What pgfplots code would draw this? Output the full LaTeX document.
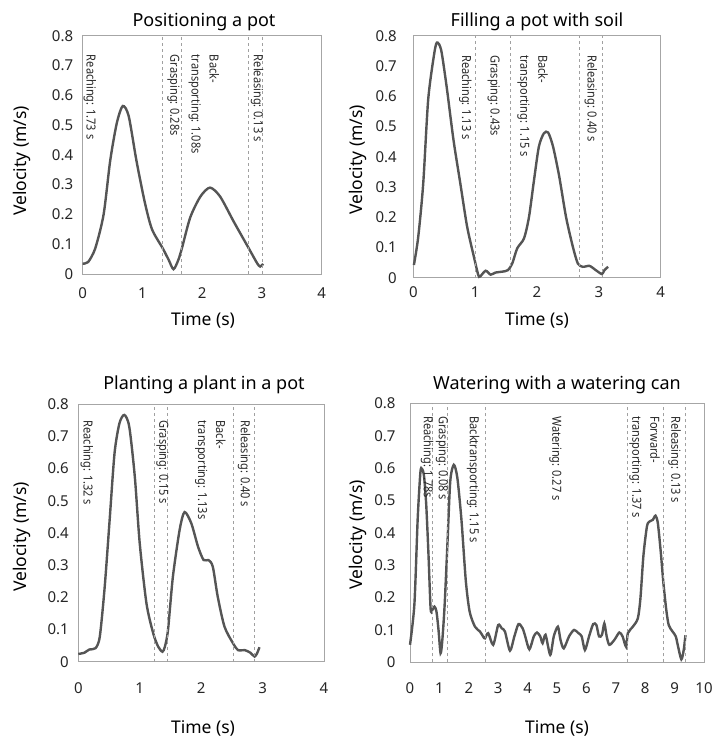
\documentclass[border=0pt]{standalone}
\usepackage{fontspec}
\setmainfont{Noto Sans}
\newfontfamily\annfont[FakeStretch=0.88]{Noto Sans}
\usepackage{pgfplots}
\pgfplotsset{compat=1.18}
\definecolor{curve}{HTML}{555555}
\definecolor{frame}{HTML}{A6A6A6}
\definecolor{sepc}{HTML}{A0A0A0}

\pgfplotsset{
  panel/.style={
    scale only axis, anchor=south west,
    xmin=0, ymin=0, ymax=0.8,
    axis line style={frame, line width=0.8pt},
    major tick length=0pt,
    ytick={0,0.1,0.2,0.3,0.4,0.5,0.6,0.7,0.8},
    yticklabels={0,0.1,0.2,0.3,0.4,0.5,0.6,0.7,0.8},
    tick label style={font=\fontsize{15}{16}\selectfont, text=black!85},
    /pgf/number format/assume math mode=true,
    xticklabel style={anchor=center},
    yticklabel style={anchor=east},
    clip=false,
  },
  vel/.style={color=curve, line width=2.4pt, smooth, tension=0.45, mark=none},
  sep/.style={color=sepc, dashed, line width=0.7pt, mark=none, forget plot},
}
\newcommand{\ann}[3]{\node[rotate=-90, anchor=west, inner sep=0pt, align=left,
  text=black!85, font=\annfont\fontsize{12.5}{18}\selectfont] at (axis cs:#1,#2) {#3};}
\newcommand{\ttl}[2]{\node[font=\fontsize{18}{20}\selectfont] at #1 {#2};}
\newcommand{\xl}[1]{\node[font=\fontsize{17.5}{20}\selectfont] at #1 {Time (s)};}
\newcommand{\yl}[1]{\node[rotate=90, font=\fontsize{17.5}{20}\selectfont] at #1 {Velocity (m/s)};}

\begin{document}
\begin{tikzpicture}
\useasboundingbox (0,0) rectangle (715pt,740pt);

% Positioning a pot
\begin{axis}[panel, at={(82.7pt,466pt)}, width=239pt, height=238.3pt, xmax=4,
  xtick={0,1,2,3,4}, xticklabel style={yshift=-19pt}, yticklabel style={xshift=-6pt}]
\addplot[vel] coordinates {(0,0.035) (0.09,0.04) (0.21,0.086) (0.35,0.2) (0.46,0.38)
  (0.57,0.506) (0.67,0.564) (0.77,0.53) (0.9,0.38) (1.04,0.24) (1.16,0.15) (1.34,0.086)
  (1.44,0.047) (1.52,0.016) (1.6,0.047) (1.66,0.086) (1.80,0.19) (1.97,0.26) (2.13,0.29)
  (2.30,0.26) (2.53,0.175) (2.78,0.086) (2.92,0.036) (2.97,0.025) (3.02,0.034)};
\addplot[sep] coordinates {(1.33,0) (1.33,0.8)};
\addplot[sep] coordinates {(1.65,0) (1.65,0.8)};
\addplot[sep] coordinates {(2.77,0) (2.77,0.8)};
\addplot[sep] coordinates {(3.0,0) (3.0,0.8)};
\ann{0.12}{0.736}{Reaching: 1.73 s}
\ann{1.52}{0.736}{Grasping: 0.28s}
\ann{2.03}{0.736}{Back-\\transporting: 1.08s}
\ann{2.92}{0.736}{Releasing: 0.13 s}
\end{axis}

% Filling a pot with soil
\begin{axis}[panel, at={(413.3pt,462.3pt)}, width=247.4pt, height=242pt, xmax=4,
  xtick={0,1,2,3,4}, xticklabel style={yshift=-14pt}, yticklabel style={xshift=-13pt}]
\addplot[vel] coordinates {(0.01,0.042) (0.08,0.135) (0.16,0.31) (0.24,0.587) (0.33,0.73)
  (0.38,0.777) (0.45,0.753) (0.54,0.63) (0.65,0.455) (0.76,0.312) (0.87,0.169) (0.98,0.069)
  (1.05,0.009) (1.08,0.004) (1.17,0.023) (1.25,0.01) (1.33,0.017) (1.44,0.02) (1.53,0.025)
  (1.60,0.047) (1.68,0.097) (1.79,0.13) (1.87,0.2) (1.95,0.32) (2.03,0.433) (2.11,0.477)
  (2.18,0.48) (2.26,0.433) (2.36,0.334) (2.47,0.2) (2.58,0.102) (2.66,0.047) (2.74,0.036)
  (2.85,0.039) (2.95,0.025) (3.05,0.012) (3.09,0.025) (3.15,0.036)};
\addplot[sep] coordinates {(1.01,0) (1.01,0.8)};
\addplot[sep] coordinates {(1.57,0) (1.57,0.8)};
\addplot[sep] coordinates {(2.69,0) (2.69,0.8)};
\addplot[sep] coordinates {(3.06,0) (3.06,0.8)};
\ann{0.84}{0.736}{Reaching: 1.13 s}
\ann{1.30}{0.736}{Grasping: 0.43s}
\ann{1.93}{0.736}{Back-\\transporting: 1.15 s}
\ann{2.87}{0.736}{Releasing: 0.40 s}
\end{axis}

% Planting a plant in a pot
\begin{axis}[panel, at={(78.3pt,78.3pt)}, width=245.7pt, height=257.4pt, xmax=4,
  xtick={0,1,2,3,4}, xticklabel style={yshift=-26pt}, yticklabel style={xshift=-6pt}]
\addplot[vel] coordinates {(0,0.024) (0.10,0.028) (0.18,0.038) (0.28,0.042) (0.35,0.078)
  (0.43,0.233) (0.51,0.44) (0.59,0.648) (0.67,0.741) (0.75,0.767) (0.83,0.73) (0.92,0.575)
  (1.00,0.368) (1.11,0.181) (1.22,0.088) (1.30,0.047) (1.37,0.031) (1.41,0.047) (1.46,0.098)
  (1.54,0.264) (1.65,0.41) (1.73,0.465) (1.84,0.43) (1.95,0.357) (2.04,0.316) (2.12,0.316)
  (2.19,0.295) (2.27,0.202) (2.38,0.109) (2.52,0.057) (2.60,0.036) (2.71,0.036) (2.80,0.028)
  (2.87,0.016) (2.91,0.026) (2.95,0.045)};
\addplot[sep] coordinates {(1.23,0) (1.23,0.8)};
\addplot[sep] coordinates {(1.45,0) (1.45,0.8)};
\addplot[sep] coordinates {(2.52,0) (2.52,0.8)};
\addplot[sep] coordinates {(2.87,0) (2.87,0.8)};
\ann{0.14}{0.75}{Reaching: 1.32 s}
\ann{1.37}{0.75}{Grasping: 0.15 s}
\ann{2.15}{0.75}{Back-\\transporting: 1.13s}
\ann{2.70}{0.75}{Releasing: 0.40 s}
\end{axis}

% Watering with a watering can
\begin{axis}[panel, at={(410pt,77.7pt)}, width=294pt, height=259pt, xmax=10,
  xtick={0,1,...,10}, xticklabel style={yshift=-26pt}, yticklabel style={xshift=-11pt}]
\addplot[vel] coordinates {(0,0.054) (0.15,0.18) (0.26,0.44) (0.34,0.57) (0.38,0.60)
  (0.47,0.58) (0.55,0.49) (0.63,0.33) (0.70,0.167) (0.75,0.16) (0.83,0.172) (0.90,0.157)
  (0.97,0.10) (1.04,0.028) (1.10,0.069) (1.18,0.18) (1.28,0.38) (1.37,0.56) (1.49,0.61)
  (1.61,0.57) (1.75,0.44) (1.90,0.25) (2.03,0.156) (2.21,0.11) (2.38,0.095) (2.49,0.079)
  (2.55,0.074) (2.66,0.09) (2.83,0.054) (3.0,0.115) (3.12,0.105) (3.23,0.095) (3.4,0.036)
  (3.55,0.08) (3.69,0.118) (3.83,0.105) (3.92,0.08) (4.06,0.04) (4.21,0.08) (4.32,0.092)
  (4.43,0.08) (4.51,0.059) (4.61,0.085) (4.77,0.023) (4.89,0.08) (5.03,0.11) (5.12,0.069)
  (5.23,0.043) (5.41,0.08) (5.58,0.1) (5.73,0.09) (5.84,0.08) (5.95,0.038) (6.09,0.08)
  (6.23,0.118) (6.34,0.115) (6.43,0.08) (6.53,0.085) (6.61,0.12) (6.69,0.08) (6.78,0.054)
  (6.95,0.069) (7.12,0.092) (7.23,0.08) (7.35,0.048) (7.41,0.09) (7.58,0.11) (7.75,0.136)
  (7.84,0.2) (7.94,0.33) (8.06,0.42) (8.15,0.435) (8.26,0.44) (8.35,0.453) (8.43,0.43)
  (8.53,0.34) (8.62,0.244) (8.72,0.16) (8.80,0.115) (8.93,0.095) (9.04,0.08) (9.12,0.048)
  (9.23,0.009) (9.31,0.038) (9.37,0.084)};
\addplot[sep] coordinates {(0.75,0) (0.75,0.8)};
\addplot[sep] coordinates {(1.28,0) (1.28,0.8)};
\addplot[sep] coordinates {(2.55,0) (2.55,0.8)};
\addplot[sep] coordinates {(7.40,0) (7.40,0.8)};
\addplot[sep] coordinates {(8.62,0) (8.62,0.8)};
\addplot[sep] coordinates {(9.38,0) (9.38,0.8)};
\ann{0.58}{0.76}{Reaching: 1.78s}
\ann{1.09}{0.76}{Grasping: 0.08 s}
\ann{2.15}{0.76}{Backtransporting: 1.15 s}
\ann{4.95}{0.76}{Watering: 0.27 s}
\ann{7.98}{0.76}{Forward-\\transporting: 1.37 s}
\ann{9.00}{0.76}{Releasing: 0.13 s}
\end{axis}

\ttl{(204pt,718pt)}{Positioning a pot}
\ttl{(537pt,718pt)}{Filling a pot with soil}
\ttl{(204pt,355pt)}{Planting a plant in a pot}
\ttl{(557pt,355pt)}{Watering with a watering can}
\xl{(203pt,420pt)}
\xl{(537pt,420pt)}
\xl{(203pt,12pt)}
\xl{(557pt,12pt)}
\yl{(22pt,579pt)}
\yl{(358pt,580pt)}
\yl{(22pt,203pt)}
\yl{(358pt,205pt)}
\end{tikzpicture}
\end{document}
